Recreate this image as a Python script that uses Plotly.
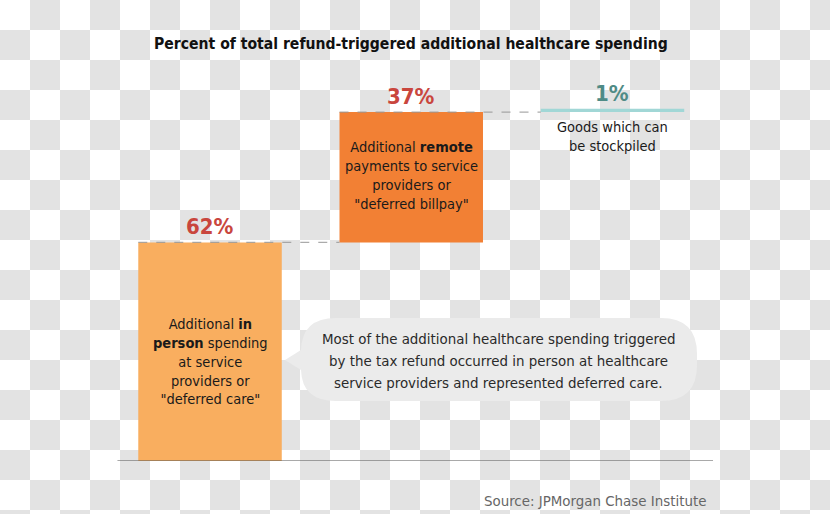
import plotly.graph_objects as go

# ---- data ----
categories = ["In person / deferred care", "Remote / deferred billpay", "Goods which can be stockpiled"]
shares = [62, 37, 1]
value_labels = ["62%", "37%", "1%"]
bar_texts = [
    "Additional <b>in</b><br><b>person</b> spending<br>at service<br>providers or<br>\"deferred care\"",
    "Additional <b>remote</b><br>payments to service<br>providers or<br>\"deferred billpay\"",
    "Goods which can<br>be stockpiled",
]
title_text = "Percent of total refund-triggered additional healthcare spending"
callout_lines = [
    "Most of the additional healthcare spending triggered",
    "by the tax refund occurred in person at healthcare",
    "service providers and represented deferred care.",
]
source_text = "Source: JPMorgan Chase Institute"

W, H = 830, 514
FONT = "DejaVu Sans Condensed, Liberation Sans Narrow, Arial Narrow, sans-serif"

bases = [sum(shares[:i]) for i in range(len(shares))]
tops = [b + s for b, s in zip(bases, shares)]
xs = list(range(len(shares)))
bar_colors = ["#F9AE5F", "#F28034", "#A1D7D6"]
label_colors = ["#C9463D", "#C9463D", "#4F8B86"]
BW = 0.713

def px(x):
    return x / W

def py(y):
    return 1 - y / H

fig = go.Figure()

# checkerboard background (transparent-image look)
ncol, nrow = 28, 18
z = [[(r + c) % 2 for c in range(ncol)] for r in range(nrow)]
fig.add_trace(go.Heatmap(
    z=z, x=[c + 0.5 for c in range(ncol)], y=[r + 0.5 for r in range(nrow)],
    colorscale=[[0, "#ffffff"], [1, "#e3e3e3"]], showscale=False,
    hoverinfo="skip", xaxis="x", yaxis="y", zmin=0, zmax=1,
))

fig.add_trace(go.Bar(
    x=xs, y=shares, base=bases, width=BW,
    marker=dict(color=bar_colors, line=dict(width=0)),
    xaxis="x2", yaxis="y2", hoverinfo="skip", showlegend=False,
))

x_lo, x_hi = -0.5, 2.5
fig.update_layout(
    width=W, height=H,
    margin=dict(l=0, r=0, t=0, b=0),
    paper_bgcolor="white", plot_bgcolor="rgba(0,0,0,0)",
    showlegend=False,
    xaxis=dict(domain=[0, 1], range=[0, W / 30], visible=False, fixedrange=True),
    yaxis=dict(domain=[0, 1], range=[H / 30, 0], visible=False, fixedrange=True),
    xaxis2=dict(domain=[109.4 / W, 713.1 / W], range=[x_lo, x_hi], visible=False, anchor="y2"),
    yaxis2=dict(domain=[(H - 461) / H, (H - 108.5) / H], range=[0, 100], visible=False, anchor="x2"),
)

shapes = []
# baseline
shapes.append(dict(type="line", xref="x2", yref="y2", x0=-0.46, x1=2.5, y0=0, y1=0,
                   line=dict(color="#555555", width=1.2), layer="above"))
# connector dashed lines (from each bar's left edge to the next bar's left edge)
for i in range(len(shares) - 1):
    x0 = xs[i] - BW / 2
    x1 = xs[i + 1] - BW / 2
    shapes.append(dict(type="line", xref="x2", yref="y2", x0=x0, x1=x1, y0=tops[i], y1=tops[i],
                       line=dict(color="rgba(150,150,150,0.8)", width=1.2, dash="dash"), layer="above"))

# callout bubble
bx0, bx1, by0, by1, r = 300, 697, 318, 401, 36
tipx, tipy = 285, 360
path = (f"M {px(bx0 + r)} {py(by0)} "
        f"L {px(bx1 - r)} {py(by0)} "
        f"Q {px(bx1)} {py(by0)} {px(bx1)} {py(by0 + r)} "
        f"L {px(bx1)} {py(by1 - r)} "
        f"Q {px(bx1)} {py(by1)} {px(bx1 - r)} {py(by1)} "
        f"L {px(bx0 + r)} {py(by1)} "
        f"Q {px(bx0 + 2)} {py(by1)} {px(bx0 + 1)} {py(370)} "
        f"L {px(tipx)} {py(tipy)} "
        f"L {px(bx0 + 1)} {py(350)} "
        f"Q {px(bx0 + 2)} {py(by0)} {px(bx0 + r)} {py(by0)} Z")
shapes.append(dict(type="path", xref="paper", yref="paper", path=path,
                   fillcolor="#ebebeb", line=dict(width=0), layer="above"))
fig.update_layout(shapes=shapes)

ann = []
ann.append(dict(text=f"<b>{title_text}</b>", x=px(411), y=py(44), xref="paper", yref="paper",
                showarrow=False, xanchor="center", yanchor="middle",
                font=dict(family=FONT, size=15.6, color="#111111")))
# value labels
for i in range(len(shares)):
    ann.append(dict(text=f"<b>{value_labels[i]}</b>", x=xs[i], y=tops[i], xref="x2", yref="y2",
                    showarrow=False, xanchor="center", yanchor="bottom", yshift=1,
                    font=dict(family=FONT, size=22, color=label_colors[i])))
# texts inside bars
ann.append(dict(text=bar_texts[0], x=xs[0], y=py(361), xref="x2", yref="paper",
                showarrow=False, xanchor="center", yanchor="middle",
                font=dict(family=FONT, size=14.5, color="#1a1a1a")))
ann.append(dict(text=bar_texts[1], x=xs[1], y=py(175), xref="x2", yref="paper",
                showarrow=False, xanchor="center", yanchor="middle",
                font=dict(family=FONT, size=14.5, color="#1a1a1a")))
ann.append(dict(text=bar_texts[2], x=xs[2], y=py(137), xref="x2", yref="paper",
                showarrow=False, xanchor="center", yanchor="middle",
                font=dict(family=FONT, size=14.5, color="#1a1a1a")))
# callout text
for k, line in enumerate(callout_lines):
    ann.append(dict(text=line, x=px(498), y=py(339 + 22 * k), xref="paper", yref="paper",
                    showarrow=False, xanchor="center", yanchor="middle", align="center",
                    font=dict(family=FONT, size=14.9, color="#2a2a2a")))
# source
ann.append(dict(text=source_text, x=px(708), y=py(501), xref="paper", yref="paper",
                showarrow=False, xanchor="right", yanchor="middle",
                font=dict(family=FONT, size=14.9, color="#666666")))
fig.update_layout(annotations=ann)

fig.write_html("out.html", config={"displayModeBar": False, "staticPlot": True},
               post_script="document.body.style.margin='0';document.body.style.padding='0';")
